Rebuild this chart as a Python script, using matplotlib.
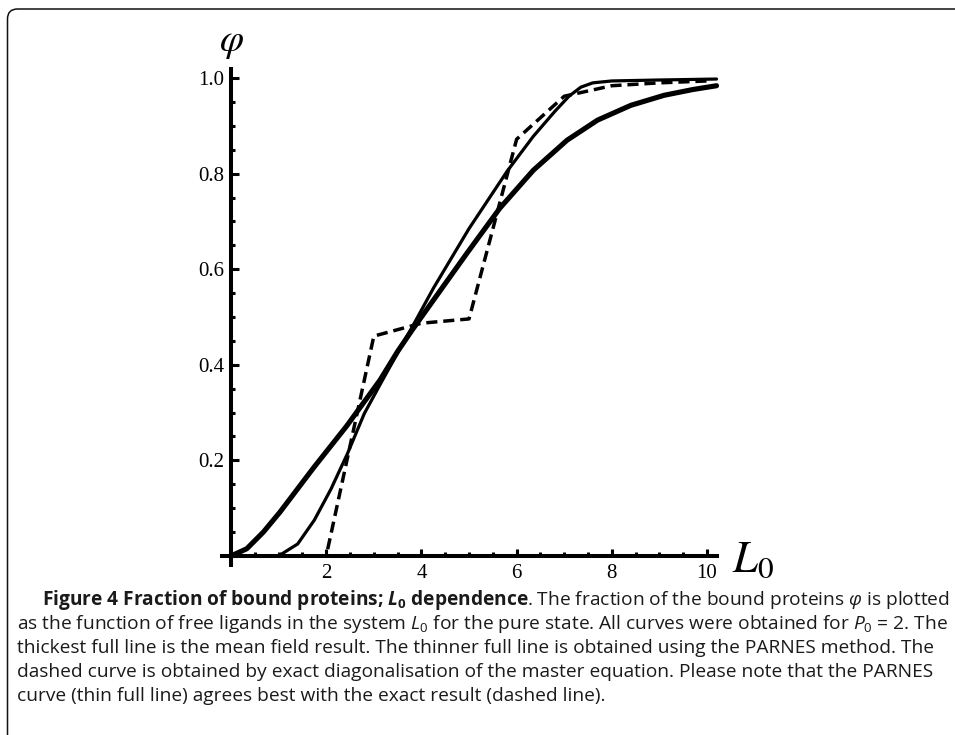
import matplotlib
matplotlib.use("Agg")
import matplotlib.pyplot as plt
from matplotlib.ticker import MultipleLocator, FixedLocator
from matplotlib.path import Path
from matplotlib.patches import PathPatch
from matplotlib.transforms import IdentityTransform

# mean field result (thickest full line)
mf_x = [0.0, 0.33, 0.68, 1.03, 1.38, 1.73, 2.08, 2.43, 2.78, 3.13, 3.5, 3.8,
        4.25, 4.96, 5.65, 6.35, 7.06, 7.7, 8.4, 9.1, 9.7, 10.2]
mf_y = [0.0, 0.015, 0.05, 0.092, 0.138, 0.184, 0.228, 0.272, 0.32, 0.368, 0.428, 0.472,
        0.535, 0.634, 0.728, 0.807, 0.87, 0.912, 0.943, 0.964, 0.976, 0.984]

# PARNES method (thin full line)
pa_x = [0.0, 1.0, 1.4, 1.75, 2.1, 2.45, 2.8, 3.15, 3.5, 3.8, 4.25, 5.0, 5.8,
        6.35, 6.8, 7.1, 7.35, 7.6, 8.0, 9.0, 10.2]
pa_y = [0.0, 0.0, 0.025, 0.075, 0.14, 0.215, 0.298, 0.362, 0.425, 0.478, 0.56, 0.685, 0.805,
        0.878, 0.93, 0.962, 0.981, 0.99, 0.994, 0.996, 0.998]

# exact diagonalisation (dashed)
ex_x = [0, 1, 2, 3, 4, 5, 6, 7, 8, 9, 10]
ex_y = [0.0, 0.0, 0.0, 0.46, 0.487, 0.496, 0.872, 0.962, 0.984, 0.99, 0.994]

x_major = [2, 4, 6, 8, 10]
y_major = [0.2, 0.4, 0.6, 0.8, 1.0]
y_labels = ["0.2", "0.4", "0.6", "0.8", "1.0"]

caption_bold = r"Figure 4 Fraction of bound proteins; $\mathbfit{L}_\mathbf{0}$ dependence"
caption_rest = r". The fraction of the bound proteins $\varphi$ is plotted"
caption_lines = [
    r"as the function of free ligands in the system $L_0$ for the pure state. All curves were obtained for $P_0$ = 2. The",
    "thickest full line is the mean field result. The thinner full line is obtained using the PARNES method. The",
    "dashed curve is obtained by exact diagonalisation of the master equation. Please note that the PARNES",
    "curve (thin full line) agrees best with the exact result (dashed line).",
]

plt.rcParams['mathtext.fontset'] = 'custom'
plt.rcParams['mathtext.rm'] = 'Open Sans'
plt.rcParams['mathtext.it'] = 'Open Sans:italic'
plt.rcParams['mathtext.bf'] = 'Open Sans:bold'
plt.rcParams['mathtext.bfit'] = 'Open Sans:italic:bold'

W, H = 955, 735
fig = plt.figure(figsize=(W / 100, H / 100), dpi=100)
ax = fig.add_axes([222 / W, 170 / H, 495 / W, 496 / H])
ax.set_xlim(-0.19, 10.21)
ax.set_ylim(-0.019, 1.019)

ax.plot(mf_x, mf_y, color='black', lw=3.7, solid_capstyle='round', clip_on=False)
ax.plot(pa_x, pa_y, color='black', lw=2.3, solid_capstyle='round', clip_on=False)
ax.plot(ex_x, ex_y, color='black', lw=2.5, linestyle=(0, (3.2, 1.7)),
        dash_capstyle='butt', clip_on=False)

for side in ['top', 'right']:
    ax.spines[side].set_visible(False)
for side in ['bottom', 'left']:
    ax.spines[side].set_position(('data', 0))
    ax.spines[side].set_linewidth(2.9)

ax.xaxis.set_major_locator(FixedLocator(x_major))
ax.xaxis.set_minor_locator(MultipleLocator(0.5))
ax.yaxis.set_major_locator(FixedLocator(y_major))
ax.yaxis.set_minor_locator(MultipleLocator(0.05))
ax.set_xticklabels([str(v) for v in x_major])
ax.set_yticklabels(y_labels)

ax.tick_params(which='both', direction='in', width=2.2, labelsize=15,
               labelfontfamily='Liberation Serif')
ax.tick_params(which='major', length=5.4)
ax.tick_params(which='minor', length=3.0)
ax.tick_params(axis='x', which='major', pad=6)
ax.tick_params(axis='y', which='major', pad=5)

# axis labels, placed in pixels
fig.text(231 / W, (H - 42) / H, r'$\varphi$', fontsize=28, math_fontfamily='stix',
         ha='center', va='center')
fig.text(732 / W, (H - 572) / H, r'$L_0$', fontsize=32, math_fontfamily='stix',
         ha='left', va='baseline')

# caption
cap_size = 13.8
cap_color = '#1a1a1a'
renderer = fig.canvas.get_renderer()
t1 = fig.text(42 / W, (H - 605) / H, caption_bold, fontsize=cap_size, color=cap_color,
              family='Open Sans', fontweight='bold', va='baseline')
w1 = t1.get_window_extent(renderer).width
fig.text((42 + w1 - 2) / W, (H - 605) / H, caption_rest, fontsize=cap_size,
         color=cap_color, family='Open Sans', va='baseline')
for i, line in enumerate(caption_lines):
    fig.text(17 / W, (H - 629 - 24 * i) / H, line, fontsize=cap_size, color=cap_color,
             family='Open Sans', va='baseline')

# frame with rounded top-left corner
r = 10
verts = [(7.5, 0), (7.5, H - 9 - r), (7.5, H - 9), (7.5 + r, H - 9), (W, H - 9)]
codes = [Path.MOVETO, Path.LINETO, Path.CURVE3, Path.CURVE3, Path.LINETO]
fig.add_artist(PathPatch(Path(verts, codes), fill=False, edgecolor='#111111', lw=1.1,
                         transform=IdentityTransform()))

fig.savefig('out.png', dpi=100)
